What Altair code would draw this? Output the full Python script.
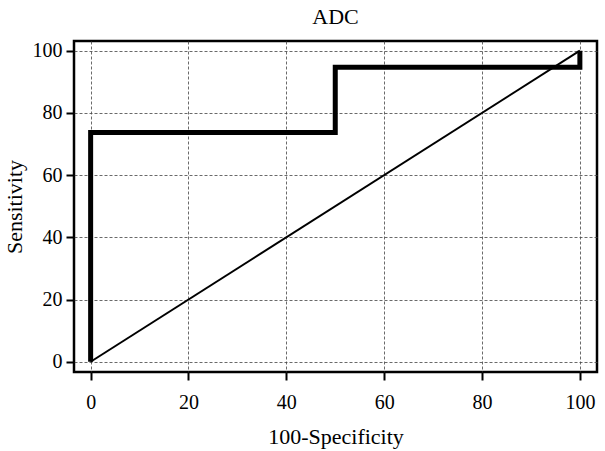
import altair as alt
import pandas as pd

# ROC step curve (100-Specificity vs Sensitivity)
roc_x = [0, 0, 50, 50, 100, 100]
roc_y = [0, 73.7, 73.7, 94.7, 94.7, 100]
diag_x = [0, 100]
diag_y = [0, 100]
ticks = [0, 20, 40, 60, 80, 100]

roc = pd.DataFrame({"x": roc_x, "y": roc_y, "o": list(range(len(roc_x)))})
diag = pd.DataFrame({"x": diag_x, "y": diag_y, "o": [0, 1]})

FONT = "Liberation Serif"
xscale = alt.Scale(domain=[-3.4, 103.5], nice=False, zero=False)
yscale = alt.Scale(domain=[-3.3, 103.1], nice=False, zero=False)

xax = alt.Axis(values=ticks, title="100-Specificity", grid=True, domain=False,
               tickColor="black", tickWidth=2, tickSize=8,
               labelFont=FONT, labelFontSize=20, labelColor="black", labelPadding=12,
               titleFont=FONT, titleFontSize=22, titleFontWeight="normal", titleColor="black",
               titlePadding=14,
               gridColor="#444", gridDash=[3, 2], gridWidth=0.8)
yax = alt.Axis(values=ticks, title="Sensitivity", grid=True, domain=False,
               tickColor="black", tickWidth=2, tickSize=8,
               labelFont=FONT, labelFontSize=20, labelColor="black", labelPadding=4,
               titleFont=FONT, titleFontSize=22, titleFontWeight="normal", titleColor="black",
               titlePadding=6,
               gridColor="#444", gridDash=[3, 2], gridWidth=0.8)

base_diag = alt.Chart(diag).mark_line(color="black", strokeWidth=2).encode(
    x=alt.X("x:Q", scale=xscale, axis=xax),
    y=alt.Y("y:Q", scale=yscale, axis=yax),
    order="o:Q",
)
step = alt.Chart(roc).mark_line(color="black", strokeWidth=5, strokeJoin="miter").encode(
    x=alt.X("x:Q", scale=xscale),
    y=alt.Y("y:Q", scale=yscale),
    order="o:Q",
)

chart = (base_diag + step).properties(
    width=523, height=331,
    title=alt.TitleParams("ADC", font=FONT, fontSize=22, fontWeight="normal", color="black", offset=12),
    autosize=alt.AutoSizeParams(type="none"),
    padding={"left": 74, "top": 41, "right": 8, "bottom": 79},
    background="white",
).configure_view(stroke="black", strokeWidth=2.5)

chart.save("out.html", embed_options={"renderer": "svg", "actions": False})
